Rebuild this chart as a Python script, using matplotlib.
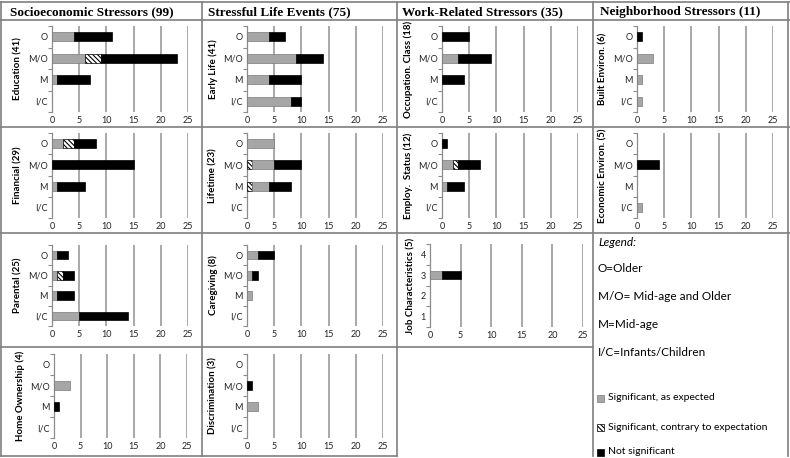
import matplotlib.pyplot as plt
from matplotlib.lines import Line2D
from matplotlib.patches import Rectangle

plt.rcParams['font.family'] = ['Lato', 'DejaVu Sans']
plt.rcParams['hatch.linewidth'] = 0.8

W, H = 790, 458

cats = ['O', 'M/O', 'M', 'I/C']
job_cats = ['4', '3', '2', '1']
headers = ['Socioeconomic Stressors (99)', 'Stressful Life Events (75)',
           'Work-Related Stressors (35)', 'Neighborhood Stressors (11)']

# counts per category (O, M/O, M, I/C): sig. as expected, sig. contrary, not sig.
edu_sig = [4, 6, 1, 0]
edu_con = [0, 3, 0, 0]
edu_ns = [7, 14, 6, 0]

fin_sig = [2, 0, 1, 0]
fin_con = [2, 0, 0, 0]
fin_ns = [4, 15, 5, 0]

par_sig = [1, 1, 1, 5]
par_con = [0, 1, 0, 0]
par_ns = [2, 2, 3, 9]

home_sig = [0, 3, 0, 0]
home_con = [0, 0, 0, 0]
home_ns = [0, 0, 1, 0]

early_sig = [4, 9, 4, 8]
early_con = [0, 0, 0, 0]
early_ns = [3, 5, 6, 2]

life_sig = [5, 4, 3, 0]
life_con = [0, 1, 1, 0]
life_ns = [0, 5, 4, 0]

care_sig = [2, 1, 1, 0]
care_con = [0, 0, 0, 0]
care_ns = [3, 1, 0, 0]

disc_sig = [0, 0, 2, 0]
disc_con = [0, 0, 0, 0]
disc_ns = [0, 1, 0, 0]

occ_sig = [0, 3, 0, 0]
occ_con = [0, 0, 0, 0]
occ_ns = [5, 6, 4, 0]

emp_sig = [0, 2, 1, 0]
emp_con = [0, 1, 0, 0]
emp_ns = [1, 4, 3, 0]

job_sig = [0, 2, 0, 0]
job_con = [0, 0, 0, 0]
job_ns = [0, 3, 0, 0]

built_sig = [0, 3, 1, 1]
built_con = [0, 0, 0, 0]
built_ns = [1, 0, 0, 0]

econ_sig = [0, 0, 0, 1]
econ_con = [0, 0, 0, 0]
econ_ns = [0, 4, 0, 0]

GRAY = '#a6a6a6'
LINE = '#8c8c8c'

# label, data, tick labels, box in pixels (left, top, right, bottom), contrary drawn first
panels = [
    ('Education (41)', edu_sig, edu_con, edu_ns, cats, (52, 26, 188, 112), False),
    ('Financial (29)', fin_sig, fin_con, fin_ns, cats, (52, 133, 188, 218), False),
    ('Parental (25)', par_sig, par_con, par_ns, cats, (52, 245, 188, 326), False),
    ('Home Ownership (4)', home_sig, home_con, home_ns, cats, (54, 354, 187, 438), False),
    ('Early Life (41)', early_sig, early_con, early_ns, cats, (247, 26, 383, 112), False),
    ('Lifetime (23)', life_sig, life_con, life_ns, cats, (247, 133, 383, 218), True),
    ('Caregiving (8)', care_sig, care_con, care_ns, cats, (247, 245, 383, 326), False),
    ('Discrimination (3)', disc_sig, disc_con, disc_ns, cats, (247, 354, 383, 438), False),
    ('Occupation. Class (18)', occ_sig, occ_con, occ_ns, cats, (442, 26, 578, 112), False),
    ('Employ.  Status (12)', emp_sig, emp_con, emp_ns, cats, (442, 133, 578, 218), False),
    ('Job Characteristics (5)', job_sig, job_con, job_ns, job_cats, (430, 244, 583, 327), False),
    ('Built Environ. (6)', built_sig, built_con, built_ns, cats, (637, 26, 773, 112), False),
    ('Economic Environ. (5)', econ_sig, econ_con, econ_ns, cats, (637, 133, 773, 218), False),
]

fig = plt.figure(figsize=(W / 100, H / 100), dpi=100)

styles = {
    'sig': dict(color=GRAY, edgecolor='#7a7a7a', linewidth=0.5),
    'con': dict(color='white', edgecolor='black', linewidth=0.5, hatch='\\\\\\\\\\\\\\'),
    'ns': dict(color='black', edgecolor='black', linewidth=0.5),
}

for label, sig, con, ns, ticks, box, con_first in panels:
    l, t, r, b = box
    ax = fig.add_axes([l / W, 1 - b / H, (r - l) / W, (b - t) / H])
    ypos = [3, 2, 1, 0]
    order = [('con', con), ('sig', sig), ('ns', ns)] if con_first else \
            [('sig', sig), ('con', con), ('ns', ns)]
    lefts = [0, 0, 0, 0]
    for key, vals in order:
        ys = [ypos[i] for i in range(4) if vals[i] > 0]
        ws = [vals[i] for i in range(4) if vals[i] > 0]
        ls = [lefts[i] for i in range(4) if vals[i] > 0]
        if ws:
            ax.barh(ys, ws, left=ls, height=0.42, zorder=3, **styles[key])
        lefts = [lefts[i] + vals[i] for i in range(4)]
    ax.set_xlim(0, 25)
    ax.set_ylim(-0.5, 3.5)
    ax.set_xticks([0, 5, 10, 15, 20, 25])
    ax.set_yticks(ypos)
    ax.set_yticklabels(ticks)
    ax.set_yticks([-0.5, 0.5, 1.5, 2.5, 3.5], minor=True)
    ax.tick_params(axis='both', which='major', length=0, labelsize=6.5, pad=3,
                   labelcolor='#222222')
    ax.tick_params(axis='y', which='minor', length=3, color=LINE, width=0.8)
    for x in [5, 10, 15, 20, 25]:
        ax.axvline(x, color='#a8a8a8', linewidth=1.4, zorder=1)
    for s in ['top', 'right', 'bottom']:
        ax.spines[s].set_visible(False)
    ax.spines['left'].set_color(LINE)
    ax.spines['left'].set_linewidth(0.9)
    ax.set_ylabel(label, fontsize=7, fontweight='bold', labelpad=4)
    ax.patch.set_alpha(0)

# table header texts
for x, txt in zip([10, 208, 402, 600], headers):
    fig.text(x / W, 1 - 12 / H, txt, fontsize=9.5, fontweight='bold',
             family='Liberation Serif', va='center', ha='left')

# table borders
def hline(y, x0, x1):
    fig.add_artist(Line2D([x0 / W, x1 / W], [1 - y / H, 1 - y / H],
                          color='#7f7f7f', linewidth=1.2))

def vline(x, y0, y1):
    fig.add_artist(Line2D([x / W, x / W], [1 - y0 / H, 1 - y1 / H],
                          color='#7f7f7f', linewidth=1.2))

hline(2, 0, 790)
hline(20, 0, 790)
hline(127, 0, 790)
hline(233, 0, 790)
hline(347, 0, 593)
hline(456, 0, 397)
vline(1, 2, 456)
vline(202, 2, 456)
vline(397, 2, 456)
vline(593, 2, 456)
vline(788, 2, 456)

# legend cell
fig.text(598 / W, 1 - 242 / H, 'Legend:', fontsize=8.5, style='italic', va='center')
legend_lines = ['O=Older', 'M/O= Mid-age and Older', 'M=Mid-age', 'I/C=Infants/Children']
for y, txt in zip([268, 297, 325, 353], legend_lines):
    fig.text(598 / W, 1 - y / H, txt, fontsize=8.5, va='center')

legend_items = [('sig', 'Significant, as expected'),
                ('con', 'Significant, contrary to expectation'),
                ('ns', 'Not significant')]
for y, (key, txt) in zip([398, 427, 452], legend_items):
    st = styles[key]
    fig.add_artist(Rectangle((597 / W, 1 - (y + 3.5) / H), 7 / W, 7 / H,
                             facecolor=st['color'], edgecolor=st['edgecolor'],
                             linewidth=0.5, hatch=st.get('hatch'),
                             transform=fig.transFigure))
    fig.text(608 / W, 1 - y / H, txt, fontsize=7.5, va='center')

fig.savefig('out.png', dpi=100)
